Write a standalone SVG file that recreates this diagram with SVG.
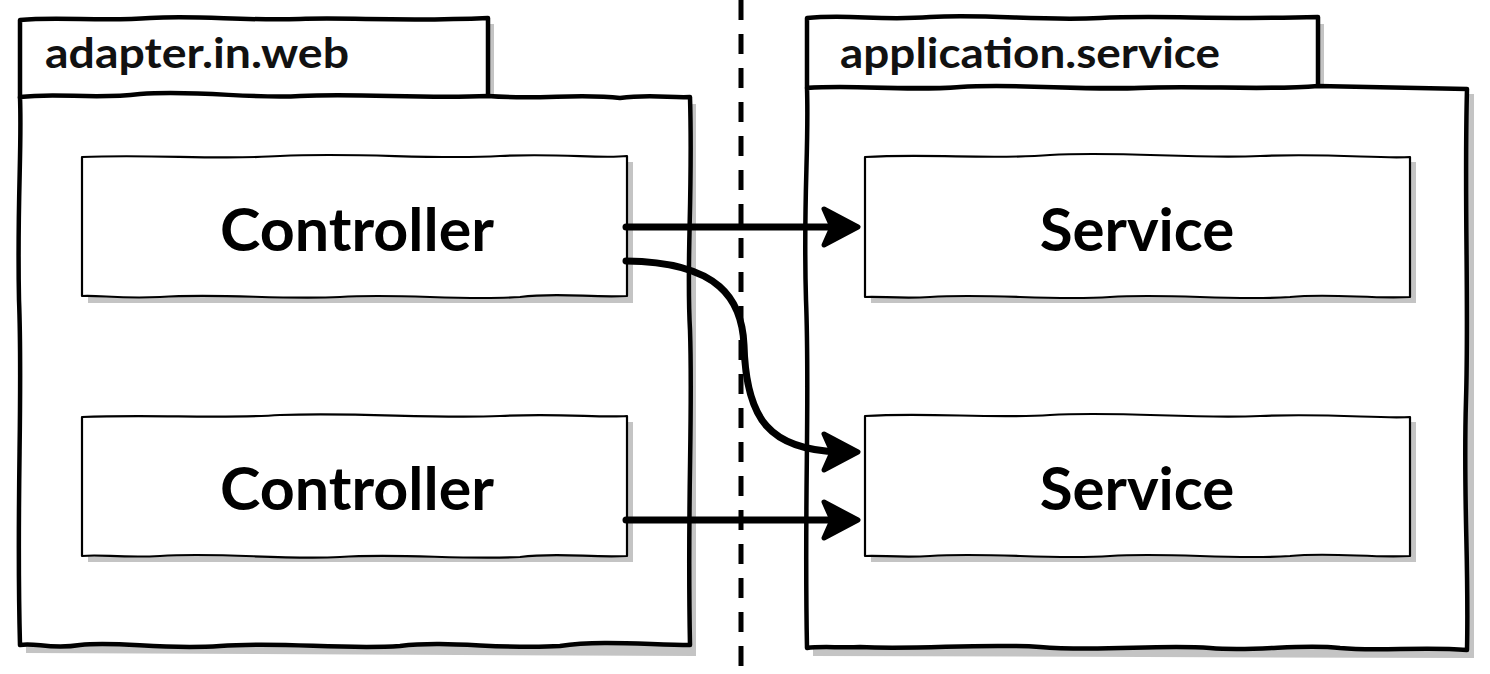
<svg xmlns="http://www.w3.org/2000/svg" width="1490" height="674" viewBox="0 0 1490 674">
<defs>
<style>
.pkg{fill:#fff;stroke:#000;stroke-width:4.5;stroke-linejoin:round}
.box{fill:#fff;stroke:#000;stroke-width:2.2;stroke-linejoin:round}
.sh{fill:#c4c4c4;stroke:none}
.plabel{font-family:Lato,"Open Sans","Liberation Sans",sans-serif;font-weight:bold;font-size:42px;fill:#111}
.nlabel{font-family:Lato,"Open Sans","Liberation Sans",sans-serif;font-weight:bold;font-size:60px;fill:#000;text-anchor:middle}
.edge{fill:none;stroke:#000;stroke-width:7;stroke-linecap:round}
.head{fill:#000;stroke:#000;stroke-width:5;stroke-linejoin:round}
.div{stroke:#000;stroke-width:5;stroke-dasharray:20 14;fill:none}
</style>
</defs>
<g id="divider"><path class="div" d="M741,0 L741,674"/></g>
<g id="pkg-adapter">
<path class="sh" d="M26,26 L494,24 L494,103 L696,104 L696,656 L26,653 Z"/>
<path class="pkg" d="M20,20 C60,16 100,22 150,18 C200,15 240,21 300,19 C350,17 400,22 488,18 L488,97 L20,98 Z"/>
<path class="pkg" d="M20,97 C60,92 90,100 140,94 C200,90 250,99 300,96 C360,93 420,99 488,96 C540,100 580,93 620,98 C650,94 670,98 690,97 C693,200 686,260 690,330 C693,420 687,500 690,645 C650,645 600,640 560,646 C500,650 450,640 400,646 C340,650 280,641 220,646 C160,650 120,641 80,645 C50,650 35,642 20,645 C16,500 23,400 19,300 C17,200 22,150 20,97 Z"/>
<text class="plabel" x="45" y="68" textLength="304" lengthAdjust="spacingAndGlyphs">adapter.in.web</text>
</g>
<g id="pkg-application">
<path class="sh" d="M813,24 L1324,24 L1324,94 L1474,94 L1474,658 L813,656 Z"/>
<path class="pkg" d="M807,18 C850,14 880,21 930,17 C990,14 1040,21 1100,18 C1160,15 1220,20 1318,17 L1318,88 L807,88 Z"/>
<path class="pkg" d="M807,88 C860,84 900,92 960,87 C1020,83 1080,91 1140,88 C1200,85 1260,91 1318,86 L1467,89 C1464,200 1469,300 1466,400 C1463,500 1469,560 1467,650 C1420,646 1380,652 1340,648 C1300,643 1260,652 1210,648 C1160,644 1100,652 1040,647 C980,643 920,650 860,647 C840,648 820,646 807,648 C804,500 810,400 806,300 C803,200 809,150 807,88 Z"/>
<text class="plabel" x="840" y="68" textLength="380" lengthAdjust="spacingAndGlyphs">application.service</text>
</g>
<g id="ctrl-1">
<path class="sh" d="M88,162 L633,162 L633,303 L88,303 Z"/>
<path class="box" d="M82,157 C150,154 220,160 280,156 C360,152 430,160 500,156 C560,153 600,159 627,156 L627,296 C590,298 560,292 520,297 C460,301 400,293 340,297 C280,300 220,293 160,297 C120,299 100,295 82,296 Z"/>
<text class="nlabel" x="357" y="251" textLength="274" lengthAdjust="spacingAndGlyphs">Controller</text>
</g>
<g id="ctrl-2">
<path class="sh" d="M88,422 L633,422 L633,562 L88,562 Z"/>
<path class="box" d="M82,417 C150,414 220,419 280,415 C360,412 430,419 500,416 C560,413 600,418 627,416 L627,556 C590,558 560,552 520,557 C460,560 400,553 340,557 C280,560 220,552 160,556 C120,558 100,554 82,556 Z"/>
<text class="nlabel" x="357" y="510" textLength="274" lengthAdjust="spacingAndGlyphs">Controller</text>
</g>
<g id="svc-1">
<path class="sh" d="M871,162 L1416,162 L1416,303 L871,303 Z"/>
<path class="box" d="M865,157 C930,153 990,160 1050,155 C1120,151 1190,159 1260,156 C1330,153 1380,159 1410,157 L1410,297 C1370,299 1330,293 1290,297 C1230,301 1170,293 1110,297 C1050,301 990,293 930,297 C900,299 880,296 865,297 Z"/>
<text class="nlabel" x="1137" y="251">Service</text>
</g>
<g id="svc-2">
<path class="sh" d="M871,422 L1416,422 L1416,562 L871,562 Z"/>
<path class="box" d="M865,416 C930,412 990,419 1050,415 C1120,411 1190,419 1260,416 C1330,413 1380,419 1410,417 L1410,556 C1370,558 1330,552 1290,556 C1230,560 1170,552 1110,556 C1050,560 990,552 930,556 C900,558 880,555 865,556 Z"/>
<text class="nlabel" x="1137" y="510">Service</text>
</g>
<g id="connectors">
<path class="edge" d="M626,227 L840,227"/>
<path class="head" d="M824,209 L858,227 L824,245 L832,227 Z"/>
<path class="edge" d="M626,261 C720,262 742,300 744,345 C746,420 770,450 840,452"/>
<path class="head" d="M824,434 L858,452 L824,470 L832,452 Z"/>
<path class="edge" d="M626,520 L840,520"/>
<path class="head" d="M824,502 L858,520 L824,538 L832,520 Z"/>
</g>
</svg>
